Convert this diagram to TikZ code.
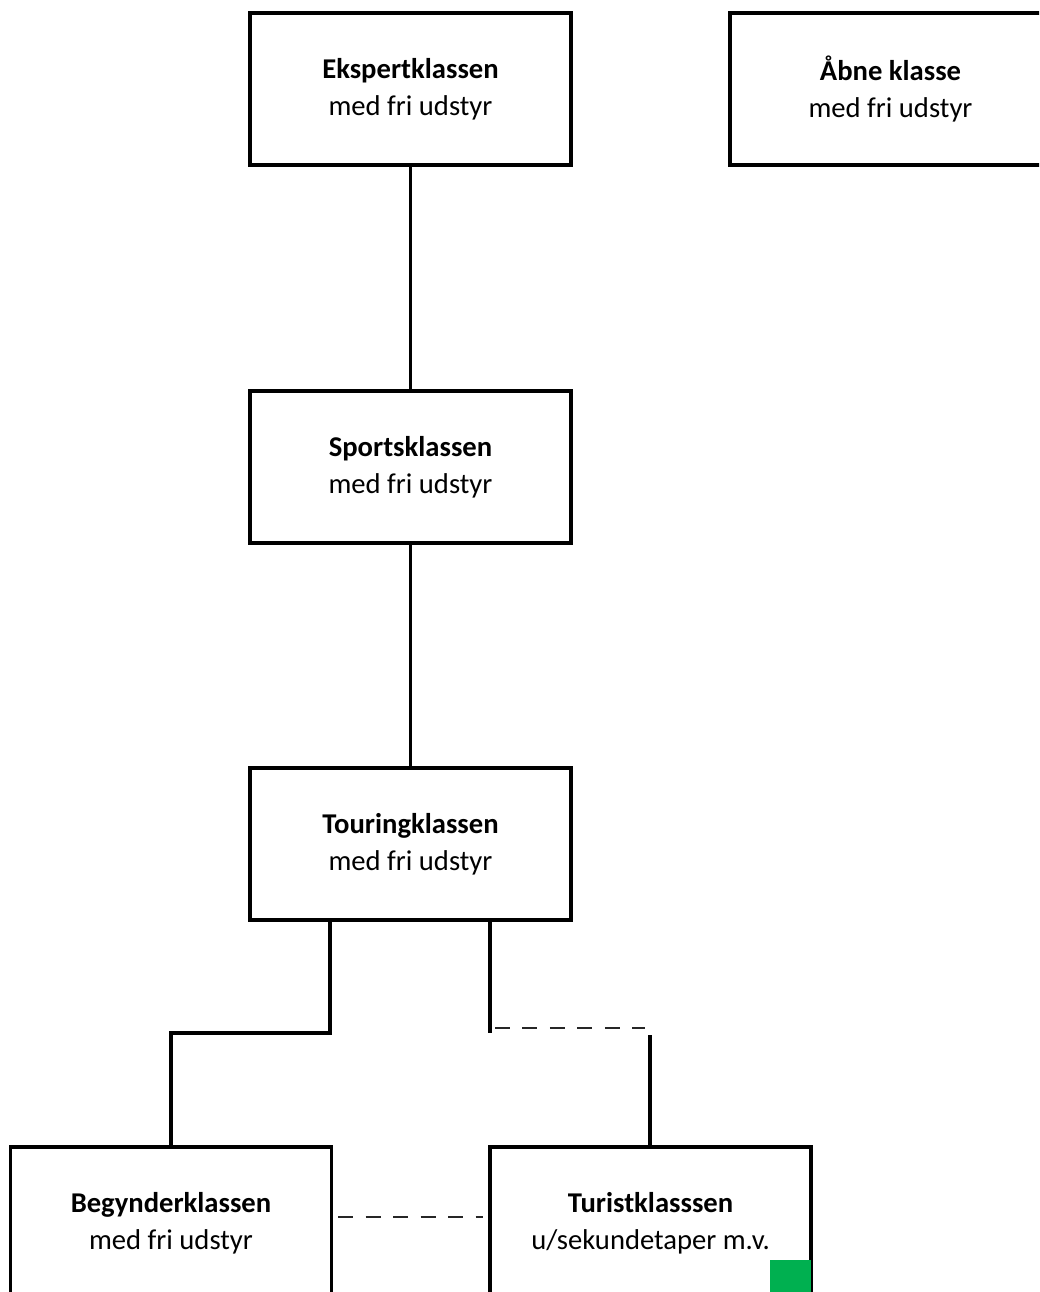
\documentclass[tikz,border=0pt]{standalone}
\usepackage{fontspec}
\setmainfont{Carlito}
\usetikzlibrary{calc}

\definecolor{markgreen}{RGB}{0,176,80}

\tikzset{
    klasse/.style={draw=black, line width=1.8pt, fill=white, align=center,
        minimum width=6.42cm, minimum height=3.04cm, inner sep=0pt,
        font=\fontsize{16.3pt}{21pt}\selectfont},
    link/.style={draw=black, line width=1.8pt},
    dashline/.style={draw=black!85, line width=1.2pt, dash pattern=on 0.3cm off 0.25cm},
}

\begin{document}
\begin{tikzpicture}[x=0.02cm, y=-0.02cm]

    \clip (0,0) rectangle (1039,1292);
    \useasboundingbox (0,0) rectangle (1039,1292);

    % classes
    \node[klasse] (ekspert)  at (410.5,89)  {\textbf{Ekspertklassen}\\med fri udstyr};
    \node[klasse] (aabne)    at (890.5,89)  {\textbf{Åbne klasse}\\med fri udstyr};
    \node[klasse] (sports)   at (410.5,467) {\textbf{Sportsklassen}\\med fri udstyr};
    \node[klasse] (touring)  at (410.5,844) {\textbf{Touringklassen}\\med fri udstyr};
    \node[klasse] (begynder) at (171,1223)  {\textbf{Begynderklassen}\\med fri udstyr};
    \node[klasse] (turist)   at (650.5,1223) {\textbf{Turistklasssen}\\u/sekundetaper m.v.};

    \fill[markgreen] (770,1260) rectangle (811,1292);

    \coordinate (splitL) at (330,1033);
    \coordinate (splitR) at (490,1033);
    \coordinate (dashR)  at (645,1028);
    \coordinate (dropR)  at (650,1035);

    % connectors
    \draw[link] (ekspert.south) -- (sports.north);
    \draw[link] (sports.south) -- (touring.north);
    \draw[link] (splitL |- touring.south) -- (splitL) -| (begynder.north);
    \draw[link] (splitR |- touring.south) -- (splitR);
    \draw[dashline] ([shift={(5,-5)}]splitR) -- (dashR);
    \draw[link] (dropR) -- (dropR |- turist.north);
    \draw[dashline] ([shift={(5,-6)}]begynder.east) -- ([shift={(-5,-6)}]turist.west);

\end{tikzpicture}
\end{document}
